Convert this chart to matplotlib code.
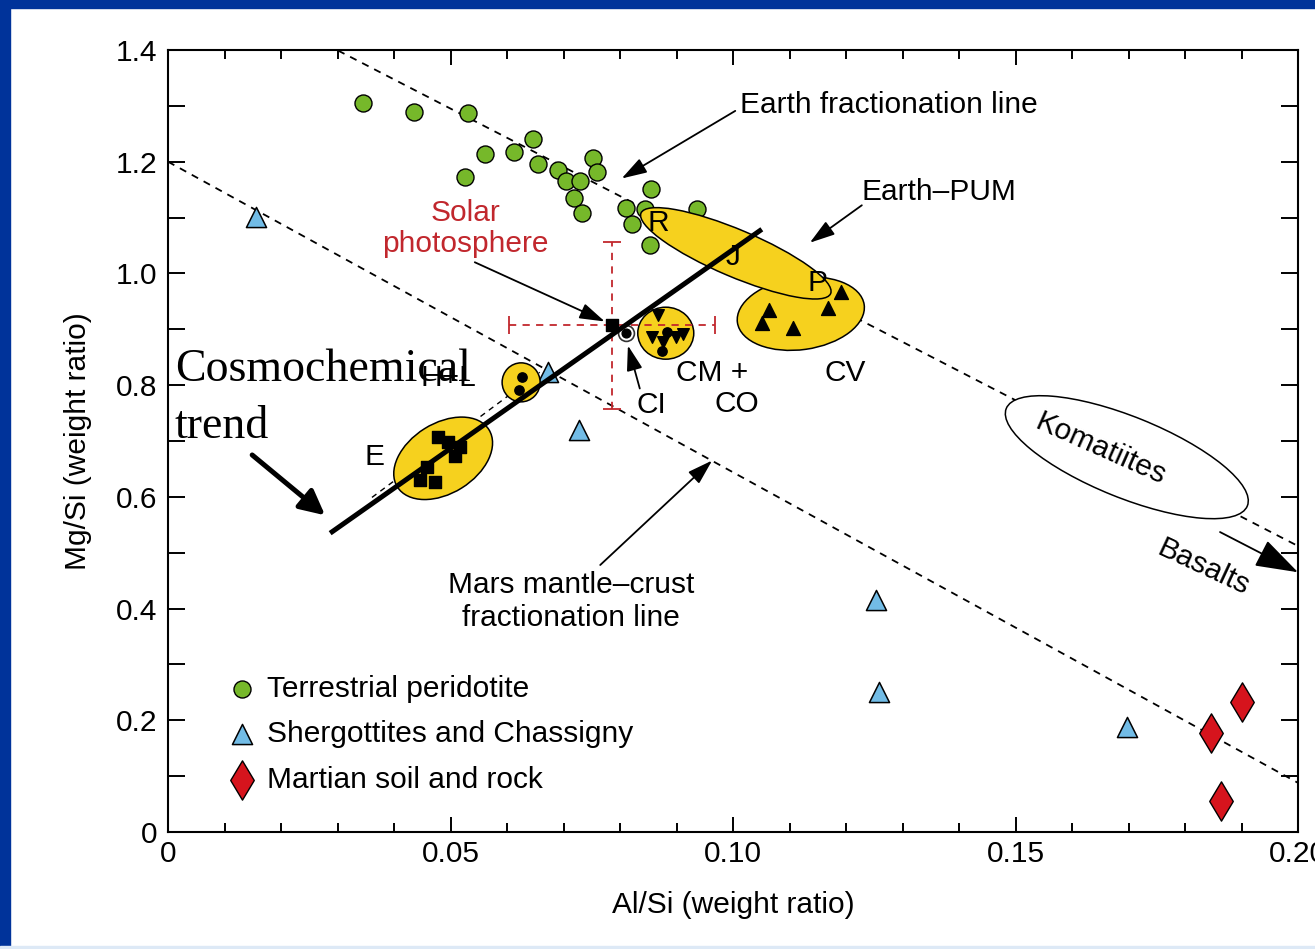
import matplotlib
matplotlib.use("Agg")
import matplotlib.pyplot as plt
from matplotlib.patches import Ellipse, Rectangle
from matplotlib.transforms import ScaledTranslation
from matplotlib.ticker import MultipleLocator, FixedLocator, FixedFormatter

plt.rcParams['font.family'] = ['Liberation Sans', 'DejaVu Sans']

# --- data (Al/Si, Mg/Si) ---
peri_x = [0.0346, 0.0435, 0.0531, 0.0646, 0.0561, 0.0613, 0.0654, 0.0526, 0.0691, 0.0704, 0.0729,
          0.0753, 0.0760, 0.0719, 0.0733, 0.0854, 0.0810, 0.0844, 0.0822, 0.0936, 0.0853]
peri_y = [1.305, 1.289, 1.287, 1.241, 1.213, 1.218, 1.196, 1.172, 1.185, 1.165, 1.166,
          1.206, 1.181, 1.135, 1.108, 1.151, 1.117, 1.115, 1.089, 1.115, 1.050]
sher_x = [0.0155, 0.0673, 0.0728, 0.1253, 0.1259, 0.1697]
sher_y = [1.101, 0.823, 0.719, 0.415, 0.251, 0.188]
mars_x = [0.1846, 0.1901, 0.1863]
mars_y = [0.177, 0.233, 0.056]

e_x = [0.0478, 0.0496, 0.0517, 0.0508, 0.0458, 0.0446, 0.0473]
e_y = [0.708, 0.699, 0.690, 0.673, 0.653, 0.630, 0.626]
hl_x = [0.0626, 0.0622]
hl_y = [0.815, 0.792]
cm_tri_x = [0.0867, 0.0857, 0.0876, 0.0899, 0.0912]
cm_tri_y = [0.925, 0.886, 0.877, 0.886, 0.891]
cm_dot_x = [0.0883, 0.0874]
cm_dot_y = [0.896, 0.862]
cv_x = [0.1064, 0.1051, 0.1106, 0.1168, 0.1191]
cv_y = [0.934, 0.912, 0.903, 0.939, 0.966]

solar_x, solar_y = 0.0786, 0.907
solar_xerr, solar_yerr = 0.0183, 0.150
ci_x, ci_y = 0.0811, 0.893

earth_line_x = [0.0301, 0.2]
earth_line_y = [1.399, 0.512]
mars_line_x = [0.0, 0.2]
mars_line_y = [1.200, 0.088]
trend_x = [0.0287, 0.1051]
trend_y = [0.535, 1.079]
old_trend_x = [0.0361, 0.0658]
old_trend_y = [0.599, 0.823]

# group ellipses: centre (data), width/height (px), angle (deg), face colour
groups = {
    'E': ((0.0487, 0.669), 108, 70, 32, '#f6d11e'),
    'HL': ((0.0625, 0.805), 38, 39, 0, '#f6d11e'),
    'CM': ((0.0881, 0.893), 56, 52, 0, '#f6d11e'),
    'CV': ((0.1120, 0.928), 128, 72, 8, '#f6d11e'),
    'PUM': ((0.1005, 1.036), 206, 47, -23, '#f6d11e'),
    'KOM': ((0.1697, 0.671), 260, 81, -22, 'white'),
}

x_ticks = [0, 0.05, 0.10, 0.15, 0.20]
x_labels = ['0', '0.05', '0.10', '0.15', '0.20']
y_ticks = [0, 0.2, 0.4, 0.6, 0.8, 1.0, 1.2, 1.4]
y_labels = ['0', '0.2', '0.4', '0.6', '0.8', '1.0', '1.2', '1.4']

green = '#76b82a'
blue = '#72bce6'
red = '#d6141d'
solar_red = '#c1272d'
FS = 21.5

fig = plt.figure(figsize=(13.15, 9.49), dpi=100)
ax = fig.add_axes([168 / 1315, 1 - 832 / 949, 1130 / 1315, 782 / 949])

# slide frame
fig.patches.append(Rectangle((0, 0), 10 / 1315, 1, transform=fig.transFigure, color='#00339a', zorder=0))
fig.patches.append(Rectangle((0, 1 - 8 / 949), 1, 8 / 949, transform=fig.transFigure, color='#00339a', zorder=0))
fig.patches.append(Rectangle((0, 0), 1, 3 / 949, transform=fig.transFigure, color='#dde9f6', zorder=0))

ax.set_xlim(0, 0.2)
ax.set_ylim(0, 1.4)

dash = (0, (4, 3.5))
ax.plot(earth_line_x, earth_line_y, color='black', lw=1.3, ls=dash, zorder=1)
ax.plot(mars_line_x, mars_line_y, color='black', lw=1.3, ls=dash, zorder=1)
ax.plot(old_trend_x, old_trend_y, color='black', lw=1, ls=dash, zorder=1)


def blob(key, z):
    (cx, cy), w, h, ang, fc = groups[key]
    tr = fig.dpi_scale_trans + ScaledTranslation(cx, cy, ax.transData)
    ax.add_patch(Ellipse((0, 0), w / 100, h / 100, angle=ang, transform=tr,
                         facecolor=fc, edgecolor='black', lw=1.1, zorder=z))


blob('KOM', 2)
ax.scatter(peri_x, peri_y, s=150, c=green, edgecolors='black', linewidths=1, zorder=3,
           label='Terrestrial peridotite')
ax.scatter(sher_x, sher_y, s=210, marker='^', c=blue, edgecolors='black', linewidths=1.1, zorder=3,
           label='Shergottites and Chassigny')
ax.scatter(mars_x, mars_y, s=400, marker='d', c=red, edgecolors='black', linewidths=1, zorder=3,
           label='Martian soil and rock')

blob('CV', 3.5)
blob('PUM', 4)
blob('E', 3.5)
blob('HL', 3.5)
blob('CM', 3.5)

ax.scatter(e_x, e_y, s=80, marker='s', c='black', zorder=5)
ax.scatter(hl_x, hl_y, s=45, marker='o', c='black', zorder=5)
ax.scatter(cm_tri_x, cm_tri_y, s=70, marker='v', c='black', zorder=5)
ax.scatter(cm_dot_x, cm_dot_y, s=45, marker='o', c='black', zorder=5)
ax.scatter(cv_x, cv_y, s=100, marker='^', c='black', zorder=5)

# solar photosphere
eb = ax.errorbar([solar_x], [solar_y], xerr=solar_xerr, yerr=solar_yerr, fmt='none',
                 ecolor=solar_red, elinewidth=1.3, capsize=6.5, capthick=1.3, zorder=4.5)
eb[2][0].set_linestyle(dash)
eb[2][1].set_linestyle(dash)
ax.scatter([solar_x], [solar_y], s=70, marker='s', c='black', zorder=6)
ax.scatter([ci_x], [ci_y], s=130, marker='o', c='white', edgecolors='#333333', linewidths=1.2, zorder=6)
ax.scatter([ci_x], [ci_y], s=40, marker='o', c='black', zorder=6.5)

# text labels
ax.text(0.0867, 1.091, 'R', fontsize=FS, ha='center', va='center', zorder=6)
ax.text(0.1000, 1.030, 'J', fontsize=FS, ha='center', va='center', zorder=6)
ax.text(0.1150, 0.982, 'P', fontsize=FS, ha='center', va='center', zorder=6)
ax.text(0.0366, 0.671, 'E', fontsize=FS, ha='center', va='center')
ax.text(0.0496, 0.812, 'H+L', fontsize=FS, ha='center', va='center')
ax.text(0.0855, 0.764, 'CI', fontsize=FS, ha='center', va='center')
ax.text(0.0963, 0.821, 'CM +', fontsize=FS, ha='center', va='center')
ax.text(0.1007, 0.767, 'CO', fontsize=FS, ha='center', va='center')
ax.text(0.1198, 0.821, 'CV', fontsize=FS, ha='center', va='center')
ax.text(0.1651, 0.685, 'Komatiites', fontsize=FS, ha='center', va='center', rotation=-24,
        rotation_mode='anchor', zorder=3)
ax.text(0.1832, 0.474, 'Basalts', fontsize=FS, ha='center', va='center', rotation=-25,
        rotation_mode='anchor')
ax.text(0.0713, 0.413, 'Mars mantle\u2013crust\nfractionation line', fontsize=FS, ha='center',
        va='center', linespacing=1.2)

thin = dict(arrowstyle='-|>,head_length=0.7,head_width=0.22', lw=1.3, color='black',
            mutation_scale=22, shrinkA=0, shrinkB=0)
ax.text(0.1012, 1.302, 'Earth fractionation line', fontsize=FS, ha='left', va='center')
ax.annotate('', xy=(0.0803, 1.170), xytext=(0.1004, 1.291), arrowprops=thin)
ax.text(0.1228, 1.145, 'Earth\u2013PUM', fontsize=FS, ha='left', va='center')
ax.annotate('', xy=(0.1136, 1.055), xytext=(0.1228, 1.122), arrowprops=thin)
ax.text(0.0527, 1.080, 'Solar\nphotosphere', fontsize=FS, color=solar_red, ha='center',
        va='center', linespacing=1.15)
ax.annotate('', xy=(0.0773, 0.914), xytext=(0.0543, 1.020), arrowprops=thin)
ax.annotate('', xy=(0.0814, 0.871), xytext=(0.0835, 0.794), arrowprops=thin)
ax.annotate('', xy=(0.0963, 0.665), xytext=(0.0765, 0.478), arrowprops=thin)
ax.annotate('', xy=(0.2, 0.465), xytext=(0.1862, 0.537),
            arrowprops=dict(arrowstyle='-|>,head_length=0.9,head_width=0.3', lw=1.3,
                            color='black', mutation_scale=30, shrinkA=0, shrinkB=0),
            annotation_clip=False)

# cosmochemical trend overlay
ax.plot(trend_x, trend_y, color='black', lw=3.6, solid_capstyle='butt', zorder=8)
ax.annotate('', xy=(0.0278, 0.567), xytext=(0.0149, 0.675),
            arrowprops=dict(arrowstyle='-|>,head_length=0.6,head_width=0.3', lw=3.6,
                            color='black', mutation_scale=25, shrinkA=0, shrinkB=0), zorder=8)
ax.text(0.0012, 0.866, 'Cosmochemical\ntrend', fontsize=33, family='Liberation Serif',
        ha='left', va='top', zorder=9, linespacing=1.45)

# axes styling
ax.xaxis.set_major_locator(FixedLocator(x_ticks))
ax.xaxis.set_major_formatter(FixedFormatter(x_labels))
ax.xaxis.set_minor_locator(MultipleLocator(0.01))
ax.yaxis.set_major_locator(FixedLocator(y_ticks))
ax.yaxis.set_major_formatter(FixedFormatter(y_labels))
ax.yaxis.set_minor_locator(MultipleLocator(0.1))
ax.tick_params(axis='both', which='both', direction='in', top=True, right=True, width=1.4,
               labelsize=FS)
ax.tick_params(axis='y', which='both', length=12, pad=8)
ax.tick_params(axis='x', which='major', length=11, pad=6)
ax.tick_params(axis='x', which='minor', length=6.5)
for sp in ax.spines.values():
    sp.set_linewidth(1.5)
ax.set_xlabel('Al/Si (weight ratio)', fontsize=FS, labelpad=16)
ax.set_ylabel('Mg/Si (weight ratio)', fontsize=FS, labelpad=17)

ax.legend(loc='upper left', bbox_to_anchor=(0.039, 0.22), frameon=False, fontsize=FS,
          handletextpad=0.35, labelspacing=0.58, borderpad=0, handlelength=1.0)

fig.savefig('out.png', dpi=100)
